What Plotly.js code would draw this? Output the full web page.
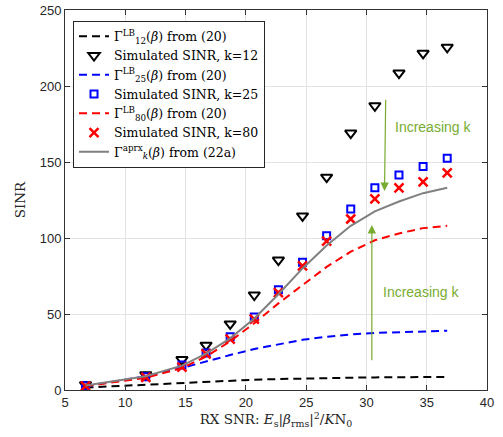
<!DOCTYPE html>
<html>
<head>
<meta charset="utf-8">
<script src="https://cdn.plot.ly/plotly-3.0.1.min.js"></script>
<style>html,body{margin:0;padding:0;background:#fff;}#chart{width:503px;height:437px;}</style>
</head>
<body>
<div id="chart"></div>
<script>
// RX SNR values (x)
const snr = [6.7, 11.7, 14.7, 16.7, 18.7, 20.7, 22.7, 24.7, 26.7, 28.7, 30.7, 32.7, 34.7, 36.7];
// Lower bounds from (20)
const lb12 = [1.6, 3.5, 4.8, 5.5, 6.2, 6.8, 7.2, 7.6, 7.9, 8.1, 8.3, 8.4, 8.5, 8.6];
const lb25 = [2.5, 9, 14.5, 19, 23, 27, 30, 33, 35, 36.5, 37.5, 38, 38.5, 39];
const lb80 = [2.5, 8, 14.5, 22, 32, 44, 57, 69, 81, 91, 98.5, 103, 106.5, 108];
// Simulated SINR
const sim12 = [3.5, 10, 20, 29.5, 43.5, 62.5, 85.5, 114.5, 140, 169, 187, 208.5, 221.5, 225.5];
const sim25 = [2.8, 8.7, 16.4, 24.3, 35, 48, 66, 84, 101.5, 119, 133, 141.5, 147, 152.5];
const sim80 = [2.6, 8.3, 15, 23.7, 33.5, 46.7, 64, 81.6, 98, 112.5, 125.7, 133, 137, 142.8];
// Approximation from (22a)
const aprx = [3, 9, 16, 24, 34, 47, 63, 80, 95, 108, 117.5, 124, 129.5, 133];

const xTicks = [5, 10, 15, 20, 25, 30, 35, 40];
const yTicks = [0, 50, 100, 150, 200, 250];

const green = '#77AC30';
const dash = '8px,5px';
const serif = 'DejaVu Serif, serif';

const traces = [
  {x: snr, y: lb12, mode: 'lines', name: 'Γ<sup>LB</sup><sub>12</sub>(<i>β</i>) from (20)',
   line: {color: '#000000', width: 2, dash: dash}},
  {x: snr, y: sim12, mode: 'markers', name: 'Simulated SINR, k=12',
   marker: {symbol: 'triangle-down-open', size: 10, color: '#000000', line: {width: 2, color: '#000000'}}},
  {x: snr, y: lb25, mode: 'lines', name: 'Γ<sup>LB</sup><sub>25</sub>(<i>β</i>) from (20)',
   line: {color: '#0000FF', width: 2, dash: dash}},
  {x: snr, y: sim25, mode: 'markers', name: 'Simulated SINR, k=25',
   marker: {symbol: 'square-open', size: 7, color: '#0000FF', line: {width: 2, color: '#0000FF'}}},
  {x: snr, y: lb80, mode: 'lines', name: 'Γ<sup>LB</sup><sub>80</sub>(<i>β</i>) from (20)',
   line: {color: '#FF0000', width: 2, dash: dash}},
  {x: snr, y: sim80, mode: 'markers', name: 'Simulated SINR, k=80',
   marker: {symbol: 'x-thin', size: 9, color: '#FF0000', line: {width: 2.5, color: '#FF0000'}}},
  {x: snr, y: aprx, mode: 'lines', name: 'Γ<sup>aprx</sup><sub><i>k</i></sub>(<i>β</i>) from (22a)',
   line: {color: '#808080', width: 2}}
];

const axisCommon = {
  showline: true, linecolor: '#333333', linewidth: 1, mirror: 'ticks',
  ticks: 'inside', ticklen: 5, tickcolor: '#333333',
  showgrid: true, gridcolor: '#E3E3E3', gridwidth: 1, zeroline: false,
  tickfont: {family: 'Liberation Sans, Arial, sans-serif', size: 13, color: '#262626'}
};

const layout = {
  width: 503, height: 437,
  margin: {l: 65, r: 16, t: 10, b: 47},
  paper_bgcolor: '#ffffff', plot_bgcolor: '#ffffff',
  showlegend: true,
  xaxis: Object.assign({}, axisCommon, {
    range: [5, 40], tickvals: xTicks, ticktext: xTicks.map(String),
    title: {text: 'RX SNR: <i>E</i><sub>s</sub>|<i>β</i><sub>rms</sub>|<sup>2</sup>/<i>K</i>N<sub>0</sub>',
            font: {family: serif, size: 13.5, color: '#262626'}, standoff: 4}
  }),
  yaxis: Object.assign({}, axisCommon, {
    range: [0, 250], tickvals: yTicks, ticktext: yTicks.map(String),
    title: {text: 'SINR', font: {family: serif, size: 13.5, color: '#262626'}, standoff: 10}
  }),
  legend: {
    x: 0.019, y: 0.972, xanchor: 'left', yanchor: 'top',
    bgcolor: '#ffffff', bordercolor: '#262626', borderwidth: 1,
    font: {family: serif, size: 12.5, color: '#000000'},
    tracegroupgap: 0, itemwidth: 30
  },
  annotations: [
    {x: 31.5, y: 131, ax: 31.6, ay: 192, xref: 'x', yref: 'y', axref: 'x', ayref: 'y',
     text: '', showarrow: true, arrowhead: 2, arrowsize: 1.4, arrowwidth: 1.2, arrowcolor: green},
    {x: 35.5, y: 173, xref: 'x', yref: 'y', text: 'Increasing k', showarrow: false,
     font: {family: 'Liberation Sans, Arial, sans-serif', size: 14, color: green}},
    {x: 30.45, y: 108.5, ax: 30.45, ay: 18.6, xref: 'x', yref: 'y', axref: 'x', ayref: 'y',
     text: '', showarrow: true, arrowhead: 2, arrowsize: 1.4, arrowwidth: 1.2, arrowcolor: green},
    {x: 34.5, y: 64.6, xref: 'x', yref: 'y', text: 'Increasing k', showarrow: false,
     font: {family: 'Liberation Sans, Arial, sans-serif', size: 14, color: green}}
  ]
};

Plotly.newPlot('chart', traces, layout, {displayModeBar: false, staticPlot: true});
</script>
</body>
</html>
